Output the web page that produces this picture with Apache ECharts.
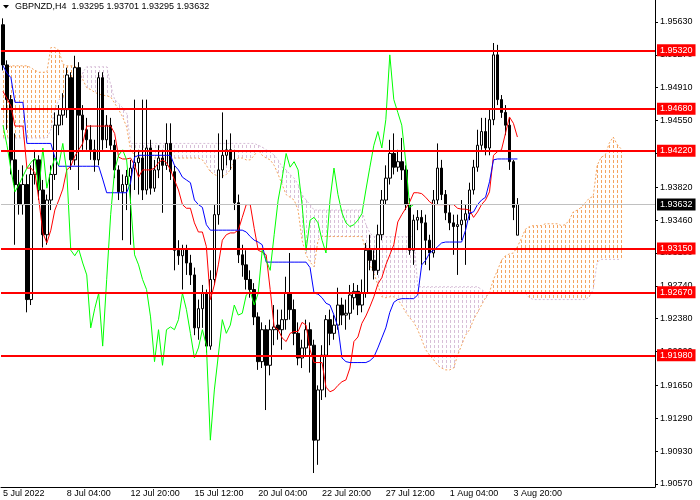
<!DOCTYPE html>
<html>
<head>
<meta charset="utf-8">
<title>GBPNZD,H4</title>
<script src="https://cdn.jsdelivr.net/npm/echarts@6/dist/echarts.min.js"></script>
<style>
  html, body { margin: 0; padding: 0; background: #fff; }
  #chart { width: 700px; height: 500px; }
</style>
</head>
<body>
<div id="chart"></div>
<script>
const symbol = 'GBPNZD,H4';
const slotCount = 164; // bars that fit on screen incl. the right shift

// time scale labels (bar index -> text)
const timeTickBars = [0, 16, 32, 48, 64, 80, 96, 112, 128];
const timeTickLabels = ['5 Jul 2022', '8 Jul 04:00', '12 Jul 20:00', '15 Jul 12:00', '20 Jul 04:00',
  '22 Jul 20:00', '27 Jul 12:00', '1 Aug 04:00', '3 Aug 20:00'];

// price scale labels
const priceTicks = [1.95630, 1.95270, 1.94910, 1.94550, 1.94190, 1.93820, 1.93460, 1.93100,
  1.92740, 1.92380, 1.92020, 1.91650, 1.91290, 1.90930, 1.90570];
const priceMin = 1.90537;
const priceMax = 1.95871;

// horizontal levels drawn on the chart
const levels = [1.9532, 1.9468, 1.9422, 1.9315, 1.9267, 1.9198];

// H4 candles: [open, close, low, high]
const candles = [
  [1.9560, 1.9516, 1.9510, 1.9567], [1.9516, 1.9478, 1.9445, 1.9521], [1.9478, 1.9412, 1.9396, 1.9483],
  [1.9412, 1.9385, 1.9319, 1.9441], [1.9385, 1.9363, 1.9352, 1.9401], [1.9363, 1.9385, 1.9352, 1.9406],
  [1.9385, 1.9259, 1.9245, 1.9396], [1.9259, 1.9396, 1.9253, 1.9406], [1.9396, 1.9412, 1.9385, 1.9423],
  [1.9412, 1.9379, 1.9368, 1.9417], [1.9379, 1.9330, 1.9316, 1.9390], [1.9330, 1.9368, 1.9319, 1.9374],
  [1.9368, 1.9396, 1.9357, 1.9406], [1.9396, 1.9450, 1.9390, 1.9464], [1.9450, 1.9461, 1.9439, 1.9472],
  [1.9461, 1.9467, 1.9450, 1.9485], [1.9467, 1.9505, 1.9458, 1.9513], [1.9502, 1.9412, 1.9401, 1.9508],
  [1.9412, 1.9513, 1.9406, 1.9526], [1.9513, 1.9461, 1.9379, 1.9519], [1.9461, 1.9445, 1.9423, 1.9472],
  [1.9445, 1.9434, 1.9423, 1.9458], [1.9434, 1.9423, 1.9412, 1.9450], [1.9423, 1.9412, 1.9399, 1.9434],
  [1.9412, 1.9502, 1.9406, 1.9508], [1.9502, 1.9434, 1.9423, 1.9508], [1.9434, 1.9450, 1.9425, 1.9461],
  [1.9450, 1.9428, 1.9423, 1.9458], [1.9428, 1.9401, 1.9392, 1.9434], [1.9401, 1.9377, 1.9368, 1.9406],
  [1.9377, 1.9385, 1.9324, 1.9396], [1.9385, 1.9394, 1.9357, 1.9401], [1.9394, 1.9403, 1.9319, 1.9412],
  [1.9403, 1.9409, 1.9379, 1.9478], [1.9409, 1.9414, 1.9374, 1.9423], [1.9414, 1.9379, 1.9368, 1.9478],
  [1.9379, 1.9425, 1.9374, 1.9478], [1.9425, 1.9381, 1.9374, 1.9434], [1.9381, 1.9401, 1.9377, 1.9412],
  [1.9401, 1.9414, 1.9392, 1.9428], [1.9414, 1.9406, 1.9354, 1.9423], [1.9406, 1.9430, 1.9401, 1.9452],
  [1.9430, 1.9399, 1.9390, 1.9452], [1.9399, 1.9313, 1.9291, 1.9406], [1.9313, 1.9307, 1.9297, 1.9324],
  [1.9307, 1.9314, 1.9270, 1.9319], [1.9314, 1.9299, 1.9286, 1.9319], [1.9299, 1.9286, 1.9275, 1.9308],
  [1.9286, 1.9228, 1.9220, 1.9294], [1.9228, 1.9249, 1.9215, 1.9259], [1.9249, 1.9266, 1.9228, 1.9275],
  [1.9266, 1.9208, 1.9201, 1.9270], [1.9208, 1.9281, 1.9204, 1.9291], [1.9281, 1.9352, 1.9275, 1.9363],
  [1.9352, 1.9401, 1.9341, 1.9441], [1.9401, 1.9417, 1.9392, 1.9464], [1.9417, 1.9423, 1.9406, 1.9434],
  [1.9423, 1.9412, 1.9401, 1.9441], [1.9412, 1.9365, 1.9357, 1.9423], [1.9365, 1.9308, 1.9299, 1.9374],
  [1.9308, 1.9297, 1.9284, 1.9319], [1.9297, 1.9281, 1.9270, 1.9313], [1.9281, 1.9270, 1.9261, 1.9291],
  [1.9270, 1.9240, 1.9231, 1.9277], [1.9240, 1.9191, 1.9182, 1.9245], [1.9191, 1.9226, 1.9184, 1.9234],
  [1.9226, 1.9187, 1.9138, 1.9231], [1.9187, 1.9226, 1.9176, 1.9237], [1.9226, 1.9229, 1.9209, 1.9253],
  [1.9231, 1.9226, 1.9215, 1.9248], [1.9226, 1.9237, 1.9204, 1.9248], [1.9237, 1.9266, 1.9226, 1.9284],
  [1.9266, 1.9248, 1.9237, 1.9310], [1.9248, 1.9222, 1.9209, 1.9259], [1.9222, 1.9195, 1.9187, 1.9234],
  [1.9195, 1.9206, 1.9184, 1.9215], [1.9206, 1.9226, 1.9198, 1.9237], [1.9226, 1.9209, 1.9179, 1.9234],
  [1.9209, 1.9105, 1.9069, 1.9215], [1.9105, 1.9160, 1.9078, 1.9165], [1.9160, 1.9198, 1.9149, 1.9209],
  [1.9198, 1.9237, 1.9152, 1.9242], [1.9237, 1.9222, 1.9209, 1.9248], [1.9222, 1.9231, 1.9215, 1.9242],
  [1.9231, 1.9253, 1.9226, 1.9272], [1.9253, 1.9242, 1.9231, 1.9261], [1.9242, 1.9244, 1.9226, 1.9259],
  [1.9244, 1.9264, 1.9237, 1.9275], [1.9261, 1.9268, 1.9248, 1.9277], [1.9268, 1.9253, 1.9242, 1.9275],
  [1.9253, 1.9266, 1.9245, 1.9281], [1.9266, 1.9313, 1.9261, 1.9321], [1.9313, 1.9302, 1.9291, 1.9330],
  [1.9302, 1.9291, 1.9281, 1.9313], [1.9291, 1.9330, 1.9286, 1.9341], [1.9330, 1.9368, 1.9324, 1.9379],
  [1.9368, 1.9392, 1.9363, 1.9406], [1.9392, 1.9419, 1.9385, 1.9434], [1.9419, 1.9404, 1.9396, 1.9441],
  [1.9404, 1.9410, 1.9399, 1.9423], [1.9410, 1.9401, 1.9390, 1.9436], [1.9401, 1.9363, 1.9357, 1.9406],
  [1.9363, 1.9313, 1.9308, 1.9370], [1.9313, 1.9346, 1.9297, 1.9352], [1.9346, 1.9349, 1.9335, 1.9357],
  [1.9349, 1.9343, 1.9297, 1.9357], [1.9343, 1.9324, 1.9297, 1.9352], [1.9324, 1.9310, 1.9291, 1.9330],
  [1.9310, 1.9368, 1.9305, 1.9379], [1.9368, 1.9403, 1.9363, 1.9430], [1.9403, 1.9374, 1.9368, 1.9412],
  [1.9374, 1.9354, 1.9346, 1.9379], [1.9354, 1.9343, 1.9335, 1.9363], [1.9343, 1.9339, 1.9308, 1.9352],
  [1.9339, 1.9341, 1.9286, 1.9352], [1.9341, 1.9346, 1.9324, 1.9368], [1.9346, 1.9353, 1.9297, 1.9363],
  [1.9353, 1.9379, 1.9346, 1.9387], [1.9379, 1.9404, 1.9374, 1.9412], [1.9404, 1.9428, 1.9399, 1.9445],
  [1.9428, 1.9443, 1.9423, 1.9458], [1.9443, 1.9425, 1.9417, 1.9458], [1.9425, 1.9456, 1.9417, 1.9467],
  [1.9456, 1.9527, 1.9450, 1.9540], [1.9527, 1.9478, 1.9472, 1.9538], [1.9478, 1.9464, 1.9458, 1.9483],
  [1.9464, 1.9450, 1.9439, 1.9472], [1.9450, 1.9410, 1.9401, 1.9458], [1.9410, 1.9360, 1.9346, 1.9412],
  [1.93295, 1.93632, 1.93295, 1.93701]
];

// Ichimoku: Tenkan-sen (red)
const tenkan = [
  1.9487, 1.9479, 1.9471, 1.9449, 1.9449, 1.9449, 1.9403, 1.9403, 1.9398, 1.9368,
  1.9332, 1.9321, 1.9335, 1.9357, 1.9368, 1.9380, 1.9401, 1.9405, 1.9416, 1.9423,
  1.9430, 1.9449, 1.9449, 1.9449, 1.9449, 1.9449, 1.9449, 1.9449, 1.9441, 1.9415,
  1.9413, 1.9413, 1.9414, 1.9406, 1.9393, 1.9401, 1.9401, 1.9401, 1.9403, 1.9409,
  1.9412, 1.9409, 1.9401, 1.9390, 1.9379, 1.9363, 1.9359, 1.9359, 1.9343, 1.9333,
  1.9333, 1.9317, 1.9259, 1.9275, 1.9297, 1.9324, 1.9330, 1.9332, 1.9332, 1.9335,
  1.9349, 1.9363, 1.9363, 1.9337, 1.9313, 1.9311, 1.9308, 1.9270, 1.9229, 1.9226,
  1.9217, 1.9213, 1.9222, 1.9224, 1.9224, 1.9234, 1.9231, 1.9204, 1.9190, 1.9190,
  1.9190, 1.9163, 1.9158, 1.9160, 1.9165, 1.9169, 1.9171, 1.9184, 1.9213, 1.9218,
  1.9233, 1.9241, 1.9251, 1.9262, 1.9276, 1.9283, 1.9297, 1.9308, 1.9319, 1.9344,
  1.9352, 1.9359, 1.9366, 1.9376, 1.9376, 1.9375, 1.9371, 1.9366, 1.9363, 1.9363,
  1.9363, 1.9363, 1.9363, 1.9363, 1.9359, 1.9358, 1.9358, 1.9357, 1.9349, 1.9355,
  1.9363, 1.9368, 1.9377, 1.9417, 1.9421, 1.9423, 1.9441, 1.9459, 1.9452, 1.9437
];

// Ichimoku: Kijun-sen (blue)
const kijun = [
  1.9515, 1.9507, 1.9502, 1.9475, 1.9475, 1.9475, 1.9430, 1.9430, 1.9430, 1.9430,
  1.9430, 1.9430, 1.9430, 1.9415, 1.9405, 1.9405, 1.9405, 1.9405, 1.9405, 1.9405,
  1.9405, 1.9405, 1.9405, 1.9405, 1.9405, 1.9391, 1.9376, 1.9376, 1.9376, 1.9376,
  1.9376, 1.9376, 1.9387, 1.9415, 1.9417, 1.9417, 1.9417, 1.9417, 1.9417, 1.9417,
  1.9417, 1.9417, 1.9417, 1.9406, 1.9401, 1.9393, 1.9390, 1.9387, 1.9368, 1.9363,
  1.9360, 1.9341, 1.9335, 1.9335, 1.9335, 1.9335, 1.9335, 1.9335, 1.9335, 1.9335,
  1.9335, 1.9333, 1.9328, 1.9324, 1.9322, 1.9319, 1.9300, 1.9300, 1.9300, 1.9300,
  1.9300, 1.9300, 1.9300, 1.9300, 1.9300, 1.9300, 1.9300, 1.9294, 1.9266, 1.9265,
  1.9261, 1.9255, 1.9253, 1.9242, 1.9229, 1.9195, 1.9191, 1.9190, 1.9190, 1.9190,
  1.9190, 1.9190, 1.9192, 1.9196, 1.9206, 1.9217, 1.9228, 1.9245, 1.9256, 1.9259,
  1.9260, 1.9260, 1.9260, 1.9260, 1.9264, 1.9297, 1.9302, 1.9310, 1.9313, 1.9317,
  1.9321, 1.9322, 1.9322, 1.9322, 1.9322, 1.9322, 1.9335, 1.9354, 1.9355, 1.9363,
  1.9368, 1.9371, 1.9388, 1.9412, 1.9413, 1.9413, 1.9413, 1.9413, 1.9413, 1.9413
];

// Ichimoku: Senkou Span A (sandy brown), runs 26 bars ahead
const senkouA = [
  1.9508, 1.9513, 1.9515, 1.9515, 1.9515, 1.9515, 1.9515, 1.9513, 1.9510, 1.9508,
  1.9508, 1.9508, 1.9535, 1.9535, 1.9532, 1.9517, 1.9515, 1.9515, 1.9515, 1.9510,
  1.9500, 1.9491, 1.9489, 1.9486, 1.9484, 1.9483, 1.9482, 1.9481, 1.9474, 1.9467,
  1.9459, 1.9448, 1.9423, 1.9417, 1.9414, 1.9414, 1.9414, 1.9414, 1.9414, 1.9414,
  1.9414, 1.9414, 1.9414, 1.9414, 1.9414, 1.9414, 1.9414, 1.9414, 1.9414, 1.9414,
  1.9412, 1.9406, 1.9399, 1.9396, 1.9394, 1.9394, 1.9396, 1.9401, 1.9410, 1.9414,
  1.9414, 1.9412, 1.9412, 1.9417, 1.9423, 1.9417, 1.9414, 1.9412, 1.9406, 1.9396,
  1.9385, 1.9374, 1.9371, 1.9368, 1.9357, 1.9324, 1.9308, 1.9300, 1.9295, 1.9324,
  1.9328, 1.9328, 1.9328, 1.9328, 1.9328, 1.9328, 1.9328, 1.9328, 1.9328, 1.9328,
  1.9328, 1.9313, 1.9297, 1.9288, 1.9275, 1.9262, 1.9261, 1.9262, 1.9262, 1.9259,
  1.9253, 1.9245, 1.9239, 1.9234, 1.9226, 1.9215, 1.9204, 1.9198, 1.9193, 1.9187,
  1.9184, 1.9182, 1.9182, 1.9184, 1.9198, 1.9209, 1.9220, 1.9226, 1.9237, 1.9245,
  1.9253, 1.9261, 1.9267, 1.9281, 1.9291, 1.9302, 1.9307, 1.9309, 1.9310, 1.9317,
  1.9326, 1.9336, 1.9339, 1.9340, 1.9340, 1.9340, 1.9342, 1.9342, 1.9342, 1.9342,
  1.9340, 1.9341, 1.9346, 1.9355, 1.9357, 1.9360, 1.9365, 1.9370, 1.9372, 1.9406,
  1.9415, 1.9417, 1.9430, 1.9437, 1.9429, 1.9424
];

// Ichimoku: Senkou Span B (thistle), runs 26 bars ahead
const senkouB = [
  1.9436, 1.9436, 1.9436, 1.9436, 1.9436, 1.9436, 1.9436, 1.9436, 1.9436, 1.9436,
  1.9436, 1.9436, 1.9445, 1.9467, 1.9478, 1.9480, 1.9480, 1.9480, 1.9483, 1.9489,
  1.9508, 1.9514, 1.9514, 1.9514, 1.9514, 1.9514, 1.9514, 1.9494, 1.9478, 1.9474,
  1.9469, 1.9463, 1.9430, 1.9430, 1.9430, 1.9430, 1.9430, 1.9430, 1.9430, 1.9430,
  1.9430, 1.9430, 1.9430, 1.9430, 1.9430, 1.9430, 1.9430, 1.9430, 1.9430, 1.9430,
  1.9430, 1.9430, 1.9430, 1.9430, 1.9430, 1.9430, 1.9430, 1.9430, 1.9430, 1.9430,
  1.9430, 1.9430, 1.9430, 1.9430, 1.9428, 1.9426, 1.9423, 1.9421, 1.9417, 1.9412,
  1.9404, 1.9401, 1.9396, 1.9392, 1.9385, 1.9374, 1.9368, 1.9363, 1.9357, 1.9357,
  1.9357, 1.9357, 1.9357, 1.9357, 1.9357, 1.9357, 1.9357, 1.9357, 1.9357, 1.9357,
  1.9357, 1.9341, 1.9332, 1.9328, 1.9328, 1.9328, 1.9328, 1.9328, 1.9328, 1.9328,
  1.9328, 1.9328, 1.9328, 1.9328, 1.9273, 1.9273, 1.9273, 1.9273, 1.9273, 1.9273,
  1.9273, 1.9273, 1.9273, 1.9273, 1.9273, 1.9273, 1.9273, 1.9273, 1.9273, 1.9273,
  1.9270, 1.9267, 1.9266, 1.9266, 1.9266, 1.9266, 1.9266, 1.9266, 1.9266, 1.9266,
  1.9266, 1.9266, 1.9261, 1.9259, 1.9259, 1.9259, 1.9259, 1.9259, 1.9259, 1.9259,
  1.9259, 1.9259, 1.9259, 1.9259, 1.9259, 1.9259, 1.9259, 1.9262, 1.9270, 1.9300,
  1.9303, 1.9303, 1.9303, 1.9303, 1.9303, 1.9303
];

const CHIKOU_SHIFT = 26;

// ---------------------------------------------------------------
const chart = echarts.init(document.getElementById('chart'));

const slots = [];
for (let i = 0; i < slotCount; i++) slots.push(String(i));
const tickLabelOf = {};
timeTickBars.forEach((b, i) => { tickLabelOf[b] = timeTickLabels[i]; });
const isTimeTick = idx => tickLabelOf[idx] !== undefined;

const last = candles[candles.length - 1];
const closes = candles.map(c => c[1]);
const chikou = closes.slice(CHIKOU_SHIFT); // lagging span = close drawn 26 bars back
const cloud = senkouA.map((a, i) => [i, a, senkouB[i]]);

const header = `${symbol}  ${last[0].toFixed(5)} ${last[3].toFixed(5)} ${last[2].toFixed(5)} ${last[1].toFixed(5)}`;
const FONT = 'Liberation Sans, Arial, sans-serif';

const levelLines = levels.map(v => ({
  yAxis: v,
  lineStyle: { color: '#ff0000', width: 2, type: 'solid' },
  label: { backgroundColor: '#ff0000', color: '#fff' }
}));
levelLines.unshift({
  yAxis: last[1],
  lineStyle: { color: '#c0c0c0', width: 1, type: 'solid' },
  label: { backgroundColor: '#000', color: '#fff' }
});

// dotted vertical hatch of the kumo: 3px dash, 2px gap, phase shared by all bars
function hatchItem(params, api) {
  const a = api.value(1);
  const b = api.value(2);
  const pa = api.coord([api.value(0), a]);
  const pb = api.coord([api.value(0), b]);
  const x = Math.round(pa[0]);
  const top = Math.round(Math.min(pa[1], pb[1]));
  const bottom = Math.round(Math.max(pa[1], pb[1]));
  const fill = a >= b ? '#f4a460' : '#d8bfd8';
  const children = [];
  for (let y = Math.floor(top / 5) * 5; y < bottom; y += 5) {
    const y0 = Math.max(y, top);
    const y1 = Math.min(y + 3, bottom);
    if (y1 > y0) {
      children.push({
        type: 'rect',
        shape: { x: x, y: y0, width: 1, height: y1 - y0 },
        style: { fill: fill, stroke: 'none', lineWidth: 0 }
      });
    }
  }
  return { type: 'group', children: children };
}

chart.setOption({
  animation: false,
  backgroundColor: '#fff',
  grid: { left: -2, right: 45, top: 0, bottom: 13 },
  xAxis: {
    type: 'category',
    data: slots,
    boundaryGap: true,
    axisLine: { lineStyle: { color: '#000', width: 1 } },
    axisTick: { alignWithLabel: true, interval: isTimeTick, length: 4, lineStyle: { color: '#000' } },
    axisLabel: {
      interval: isTimeTick,
      formatter: (v, idx) => tickLabelOf[idx] || '',
      align: 'left', margin: 2, fontSize: 9, color: '#000', fontFamily: FONT
    },
    splitLine: { show: false }
  },
  yAxis: {
    type: 'value',
    position: 'right',
    min: priceMin,
    max: priceMax,
    axisLine: { show: true, lineStyle: { color: '#000', width: 1 } },
    axisTick: { show: true, customValues: priceTicks, length: 3, lineStyle: { color: '#000' } },
    axisLabel: {
      customValues: priceTicks,
      formatter: v => v.toFixed(5),
      margin: 5, fontSize: 9, color: '#000', fontFamily: FONT
    },
    splitLine: { show: false }
  },
  graphic: [
    { type: 'polygon', shape: { points: [[3, 5], [9, 5], [6, 8.5]] }, style: { fill: '#000' }, z: 100 },
    { type: 'text', left: 15, top: 2, z: 100, style: { text: header, font: '9px ' + FONT, fill: '#000' } }
  ],
  series: [
    {
      type: 'custom',
      z: 1,
      silent: true,
      data: cloud,
      encode: { x: 0, y: [1, 2] },
      itemStyle: { color: '#f4a460' },
      renderItem: hatchItem
    },
    {
      name: 'Senkou Span A', type: 'line', z: 2, data: senkouA, showSymbol: false, silent: true,
      lineStyle: { color: '#f4a460', width: 1, type: [2, 2] }
    },
    {
      name: 'Senkou Span B', type: 'line', z: 2, data: senkouB, showSymbol: false, silent: true,
      lineStyle: { color: '#d8bfd8', width: 1, type: [2, 2] }
    },
    {
      name: symbol, type: 'candlestick', z: 3, data: candles, barWidth: 3, silent: true,
      itemStyle: { color: '#fff', color0: '#000', borderColor: '#000', borderColor0: '#000', borderWidth: 1 }
    },
    {
      name: 'Tenkan-sen', type: 'line', z: 4, data: tenkan, showSymbol: false, silent: true,
      lineStyle: { color: '#ff0000', width: 1 }
    },
    {
      name: 'Kijun-sen', type: 'line', z: 4, data: kijun, showSymbol: false, silent: true,
      lineStyle: { color: '#0000ff', width: 1 }
    },
    {
      name: 'Chikou Span', type: 'line', z: 4, data: chikou, showSymbol: false, silent: true,
      lineStyle: { color: '#00ff00', width: 1 }
    },
    {
      // horizontal levels + current price line
      type: 'line', z: 10, data: [], silent: true,
      markLine: {
        symbol: 'none',
        silent: true,
        animation: false,
        precision: 5,
        label: {
          position: 'end', distance: 2, formatter: p => Number(p.value).toFixed(5),
          fontSize: 9, fontFamily: FONT, padding: [2, 3, 1, 3]
        },
        data: levelLines
      }
    }
  ]
});
</script>
</body>
</html>
